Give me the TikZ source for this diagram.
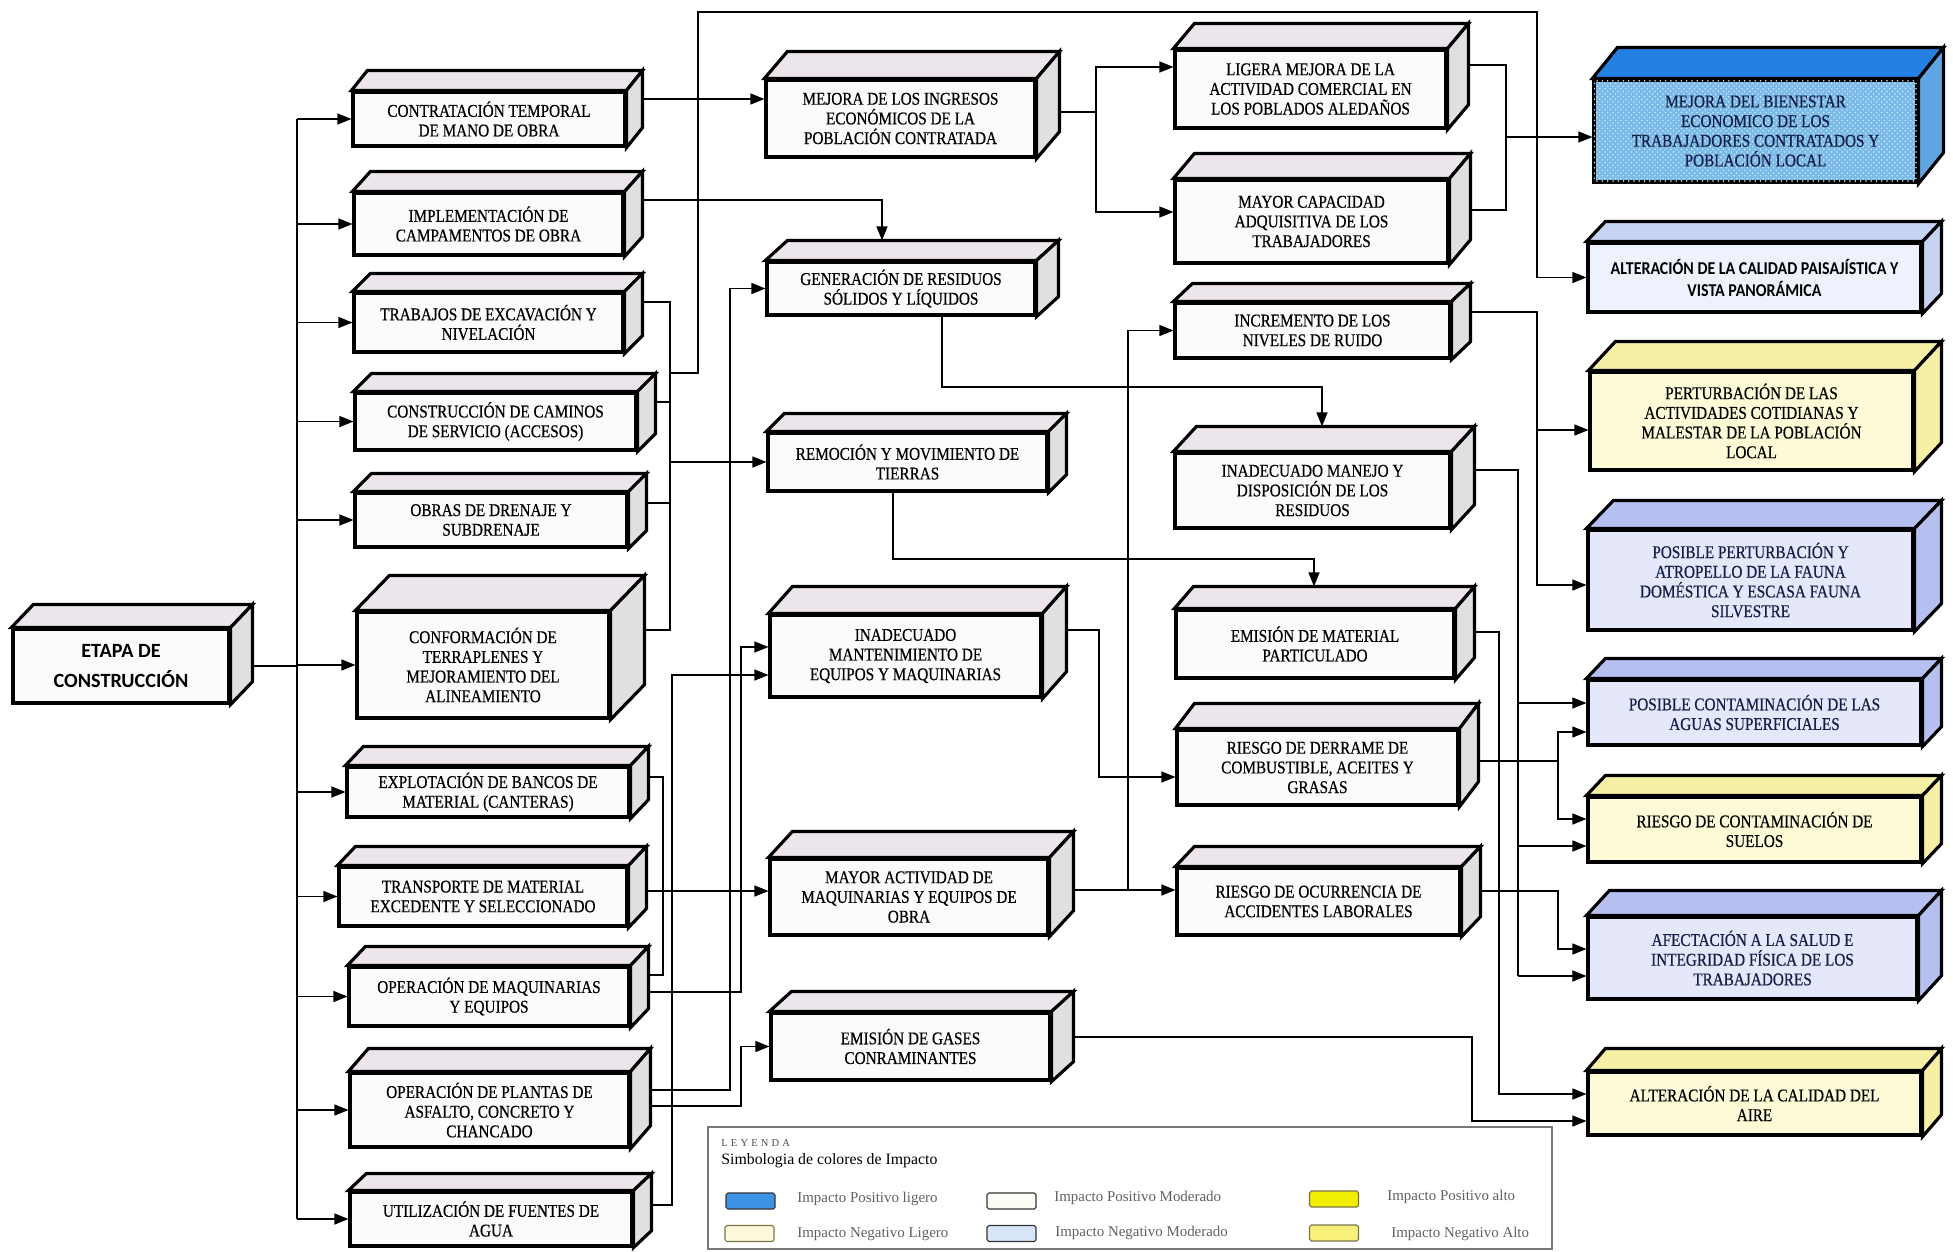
\documentclass[tikz,border=0pt]{standalone}
\usepackage{fontspec}
\setmainfont{Liberation Serif}
\newfontfamily\cajafont[FakeStretch=0.85, FakeBold=0.5]{Liberation Serif}
\newfontfamily\carlito{Carlito}
\newfontfamily\carlitoang[FakeStretch=0.88]{Carlito}
\usetikzlibrary{arrows.meta, calc, backgrounds, patterns}

\definecolor{cfrente}{RGB}{252,250,252}
\definecolor{ctapa}{RGB}{236,229,236}
\definecolor{clado}{RGB}{224,224,226}
\definecolor{bienfrente}{RGB}{122,186,232}
\definecolor{bientapa}{RGB}{36,128,226}
\definecolor{bienlado}{RGB}{96,166,228}
\definecolor{paisfrente}{RGB}{238,242,252}
\definecolor{paislado}{RGB}{198,212,244}
\definecolor{lifrente}{RGB}{228,232,250}
\definecolor{lilado}{RGB}{182,192,240}
\definecolor{amfrente}{RGB}{253,251,214}
\definecolor{amlado}{RGB}{246,240,165}
\definecolor{azuloscuro}{RGB}{20,30,70}
\definecolor{leyborde}{RGB}{120,120,120}

\tikzset{
  caja/.style n args={5}{draw, line width=1.8pt, fill=#1, align=center, inner sep=0pt,
    font=\cajafont\fontsize{10.2}{11.2}\selectfont,
    append after command={\pgfextra{%
      \draw[line width=1.8pt, fill=#2] (\tikzlastnode.north west) -- ++(#4,-#5)
        -- ([shift={(#4,-#5)}]\tikzlastnode.north east) -- (\tikzlastnode.north east) -- cycle;
      \draw[line width=1.8pt, fill=#3] (\tikzlastnode.north east) -- ++(#4,-#5)
        -- ([shift={(#4,-#5)}]\tikzlastnode.south east) -- (\tikzlastnode.south east) -- cycle;
    }}},
  neutra/.style 2 args={caja={cfrente}{ctapa}{clado}{#1}{#2}},
  amarilla/.style 2 args={caja={amfrente}{amlado}{amlado}{#1}{#2}},
  lila/.style 2 args={caja={lifrente}{lilado}{lilado}{#1}{#2}},
  linea/.style={line width=0.7pt},
  flecha/.style={linea, -{Triangle[length=0.28cm, width=0.22cm]}},
  muestra/.style={draw=#1, line width=0.6pt, rounded corners=1pt, minimum width=0.98cm, minimum height=0.32cm},
  leytexto/.style={anchor=west, inner sep=0pt, text=gray!75!black, font=\fontsize{8.5}{10}\selectfont},
}

\begin{document}
\begin{tikzpicture}[x=0.02cm, y=-0.02cm]
  \useasboundingbox (0,0) rectangle (1953,1251);

  % Stage
  \node[neutra={22}{23}, minimum width=4.32cm, minimum height=1.48cm,
        font=\carlito\bfseries\fontsize{11.5}{17}\selectfont] (etapa) at (121,666) {ETAPA DE\\CONSTRUCCIÓN};

  % Activities
  \node[neutra={16}{20}, minimum width=5.44cm, minimum height=1.08cm] (contr) at (489,119) {CONTRATACIÓN TEMPORAL\\DE MANO DE OBRA};
  \node[neutra={18}{20}, minimum width=5.38cm, minimum height=1.24cm] (impl) at (488.5,224) {IMPLEMENTACIÓN DE\\CAMPAMENTOS DE OBRA};
  \node[neutra={18}{18}, minimum width=5.38cm, minimum height=1.18cm] (trab) at (488.5,322.5) {TRABAJOS DE EXCAVACIÓN Y\\NIVELACIÓN};
  \node[neutra={18}{18}, minimum width=5.62cm, minimum height=1.14cm] (camin) at (495.5,421.5) {CONSTRUCCIÓN DE CAMINOS\\DE SERVICIO (ACCESOS)};
  \node[neutra={18}{18}, minimum width=5.44cm, minimum height=1.08cm] (obras) at (491,520) {OBRAS DE DRENAJE Y\\SUBDRENAJE};
  \node[neutra={34}{35}, minimum width=5.04cm, minimum height=2.12cm] (conf) at (483,665) {CONFORMACIÓN DE\\TERRAPLENES Y\\MEJORAMIENTO DEL\\ALINEAMIENTO};
  \node[neutra={18}{19}, minimum width=5.64cm, minimum height=1.0cm] (explo) at (488,792) {EXPLOTACIÓN DE BANCOS DE\\MATERIAL (CANTERAS)};
  \node[neutra={18}{19}, minimum width=5.76cm, minimum height=1.18cm] (transp) at (483,896.5) {TRANSPORTE DE MATERIAL\\EXCEDENTE Y SELECCIONADO};
  \node[neutra={18}{19}, minimum width=5.6cm, minimum height=1.18cm] (opmaq) at (489,996.5) {OPERACIÓN DE MAQUINARIAS\\Y EQUIPOS};
  \node[neutra={20}{23}, minimum width=5.58cm, minimum height=1.48cm] (plantas) at (489.5,1110) {OPERACIÓN DE PLANTAS DE\\ASFALTO, CONCRETO Y\\CHANCADO};
  \node[neutra={18}{17}, minimum width=5.64cm, minimum height=1.08cm] (agua) at (491,1219) {UTILIZACIÓN DE FUENTES DE\\AGUA};

  % Direct effects
  \node[neutra={23}{27}, minimum width=5.38cm, minimum height=1.54cm] (ingr) at (900.5,118.5) {MEJORA DE LOS INGRESOS\\ECONÓMICOS DE LA\\POBLACIÓN CONTRATADA};
  \node[neutra={22}{20}, minimum width=5.36cm, minimum height=1.06cm] (resid) at (901,288.5) {GENERACIÓN DE RESIDUOS\\SÓLIDOS Y LÍQUIDOS};
  \node[neutra={18}{18}, minimum width=5.58cm, minimum height=1.16cm] (remoc) at (907.5,462) {REMOCIÓN Y MOVIMIENTO DE\\TIERRAS};
  \node[neutra={24}{27}, minimum width=5.42cm, minimum height=1.64cm] (mant) at (905.5,656) {INADECUADO\\MANTENIMIENTO DE\\EQUIPOS Y MAQUINARIAS};
  \node[neutra={24}{26}, minimum width=5.56cm, minimum height=1.52cm] (activ) at (909,897) {MAYOR ACTIVIDAD DE\\MAQUINARIAS Y EQUIPOS DE\\OBRA};
  \node[neutra={22}{20}, minimum width=5.58cm, minimum height=1.34cm] (gases) at (910.5,1046.5) {EMISIÓN DE GASES\\CONRAMINANTES};

  % Secondary effects
  \node[neutra={21}{25}, minimum width=5.42cm, minimum height=1.56cm] (liger) at (1310.5,89) {LIGERA MEJORA DE LA\\ACTIVIDAD COMERCIAL EN\\LOS POBLADOS ALEDAÑOS};
  \node[neutra={21}{25}, minimum width=5.46cm, minimum height=1.66cm] (capac) at (1311.5,221.5) {MAYOR CAPACIDAD\\ADQUISITIVA DE LOS\\TRABAJADORES};
  \node[neutra={19}{18}, minimum width=5.5cm, minimum height=1.1cm] (ruido) at (1312.5,330.5) {INCREMENTO DE LOS\\NIVELES DE RUIDO};
  \node[neutra={23}{25}, minimum width=5.5cm, minimum height=1.5cm] (manejo) at (1312.5,490.5) {INADECUADO MANEJO Y\\DISPOSICIÓN DE LOS\\RESIDUOS};
  \node[neutra={19}{22}, minimum width=5.56cm, minimum height=1.36cm] (partic) at (1315,644) {EMISIÓN DE MATERIAL\\PARTICULADO};
  \node[neutra={19}{25}, minimum width=5.62cm, minimum height=1.5cm] (derr) at (1317.5,767.5) {RIESGO DE DERRAME DE\\COMBUSTIBLE, ACEITES Y\\GRASAS};
  \node[neutra={19}{20}, minimum width=5.66cm, minimum height=1.34cm] (accid) at (1318.5,901.5) {RIESGO DE OCURRENCIA DE\\ACCIDENTES LABORALES};

  % Impacts
  \node[caja={bienfrente}{bientapa}{bienlado}{25}{31}, postaction={pattern=crosshatch dots, pattern color=white!65!bienfrente},
        text=azuloscuro, minimum width=6.46cm, minimum height=2.04cm] (bien) at (1755.5,131) {MEJORA DEL BIENESTAR\\ECONOMICO DE LOS\\TRABAJADORES CONTRATADOS Y\\POBLACIÓN LOCAL};
  \node[caja={paisfrente}{paislado}{paislado}{19}{20}, minimum width=6.66cm, minimum height=1.38cm,
        font=\carlitoang\bfseries\fontsize{10.3}{12.5}\selectfont] (paisaj) at (1754.5,277.5) {ALTERACIÓN DE LA CALIDAD PAISAJÍSTICA Y\\VISTA PANORÁMICA};
  \node[amarilla={27}{29}, minimum width=6.46cm, minimum height=1.96cm] (cotid) at (1751.5,421) {PERTURBACIÓN DE LAS\\ACTIVIDADES COTIDIANAS Y\\MALESTAR DE LA POBLACIÓN\\LOCAL};
  \node[lila={27}{28}, text=azuloscuro, minimum width=6.5cm, minimum height=2.0cm] (fauna) at (1750.5,580) {POSIBLE PERTURBACIÓN Y\\ATROPELLO DE LA FAUNA\\DOMÉSTICA Y ESCASA FAUNA\\SILVESTRE};
  \node[lila={19}{20}, text=azuloscuro, minimum width=6.66cm, minimum height=1.3cm] (aguas) at (1754.5,712.5) {POSIBLE CONTAMINACIÓN DE LAS\\AGUAS SUPERFICIALES};
  \node[amarilla={19}{20}, minimum width=6.66cm, minimum height=1.3cm] (suelos) at (1754.5,829.5) {RIESGO DE CONTAMINACIÓN DE\\SUELOS};
  \node[lila={23}{25}, text=azuloscuro, minimum width=6.58cm, minimum height=1.64cm] (salud) at (1752.5,958) {AFECTACIÓN A LA SALUD E\\INTEGRIDAD FÍSICA DE LOS\\TRABAJADORES};
  \node[amarilla={19}{22}, minimum width=6.66cm, minimum height=1.26cm] (aire) at (1754.5,1103.5) {ALTERACIÓN DE LA CALIDAD DEL\\AIRE};

  % Connectors
  \begin{scope}[on background layer]
    \coordinate (tronco) at (297,0);
    \draw[linea] (etapa.east) -- (etapa.east -| tronco);
    \draw[linea] (contr.west -| tronco) -- (agua.west -| tronco);
    \foreach \n in {contr,impl,trab,camin,obras,conf,explo,transp,opmaq,plantas,agua}
      \draw[flecha] (\n.west -| tronco) -- (\n.west);

    \draw[flecha] (contr.east |- 0,99) -- (ingr.west |- 0,99);
    \draw[flecha] (impl.east |- 0,200) -| ($(resid.north -| 882,0)+(0,-20)$);

    % earthworks bus
    \coordinate (bus) at (670,0);
    \draw[linea] (trab.east |- 0,302) -| (bus |- 0,630) -- (conf.east |- 0,630);
    \draw[linea] (camin.east |- 0,402) -- (bus |- 0,402);
    \draw[linea] (obras.east |- 0,503) -- (bus |- 0,503);
    \draw[flecha] (bus |- remoc.west) -- (remoc.west);
    \draw[flecha] (bus |- 0,373) -| (698,12) -- (1537,12) |- (paisaj.west);

    \draw[linea] (explo.east |- 0,777) -| (663,891);
    \draw[linea] (opmaq.east |- 0,975) -| (663,891);
    \draw[flecha] (transp.east |- 0,891) -- (activ.west |- 0,891);
    \draw[flecha] (opmaq.east |- 0,992) -| (741,800) |- (mant.west |- 0,647);
    \draw[flecha] (agua.east |- 0,1205) -| (672,800) |- (mant.west |- 0,675);
    \draw[flecha] (plantas.east |- 0,1090) -| (730,700) |- (resid.west);
    \draw[flecha] (plantas.east |- 0,1106) -| (741,1080) |- (gases.west);

    \draw[linea] (ingr.east |- 0,112) -- (1096,112);
    \draw[flecha] (1096,112) |- (liger.west |- 0,67);
    \draw[flecha] (1096,112) |- (capac.west |- 0,212);
    \draw[flecha] (resid.south -| 942,0) |- (1322,387) -- ($(manejo.north -| 1322,0)+(0,-25)$);
    \draw[flecha] (remoc.south -| 893,0) |- (1314,559) -- ($(partic.north -| 1314,0)+(0,-22)$);
    \draw[flecha] (mant.east |- 0,630) -| (1099,700) |- (derr.west |- 0,777);
    \draw[flecha] (activ.east |- 0,890) -- (accid.west |- 0,890);
    \draw[flecha] (1128,890) |- (ruido.west);

    \draw[linea] (liger.east |- 0,65) -| (1506,137);
    \draw[linea] (capac.east |- 0,210) -| (1506,137);
    \draw[flecha] (1506,137) -- (bien.west |- 0,137);
    \draw[flecha] (ruido.east |- 0,312) -| (1537,400) |- (cotid.west |- 0,430);
    \draw[flecha] (1537,400) |- (fauna.west |- 0,585);
    \draw[linea] (manejo.east |- 0,470) -| (1518,976);
    \draw[flecha] (1518,703) -- (aguas.west |- 0,703);
    \draw[flecha] (1518,846) -- (suelos.west |- 0,846);
    \draw[flecha] (1518,976) -- (salud.west |- 0,976);
    \draw[flecha] (partic.east |- 0,632) -| (1499,900) |- (aire.west |- 0,1094);
    \draw[linea] (derr.east |- 0,761) -- (1558,761);
    \draw[flecha] (1558,761) |- (aguas.west |- 0,732);
    \draw[flecha] (1558,761) |- (suelos.west |- 0,819);
    \draw[flecha] (accid.east |- 0,891) -| (1558,920) |- (salud.west |- 0,949);
    \draw[flecha] (gases.east |- 0,1037) -| (1472,1100) |- (aire.west |- 0,1121);
  \end{scope}

  % Legend
  \node[draw=leyborde, line width=0.7pt, minimum width=16.88cm, minimum height=2.44cm, inner sep=0pt] (leyenda) at (1130,1188) {};
  \node[anchor=west, inner sep=0pt, text=gray!60!black, font=\fontsize{6}{7}\selectfont\addfontfeature{LetterSpace=30}] (leytit) at (721,1143) {LEYENDA};
  \node[anchor=west, inner sep=0pt, font=\fontsize{9}{10}\selectfont] (simb) at (721,1161) {Simbologia de colores de Impacto};
  \node[muestra=gray!40!black, fill={rgb,255:red,61;green,148;blue,230}] (sw1) at (750.5,1201) {};
  \node[muestra=gray!40!black, fill={rgb,255:red,253;green,253;blue,246}] (sw2) at (1011.5,1201) {};
  \node[muestra=black!60!yellow, fill={rgb,255:red,242;green,238;blue,0}] (sw3) at (1334,1199) {};
  \node[muestra=black!60!yellow, fill={rgb,255:red,252;green,249;blue,220}] (sw4) at (749.5,1233.5) {};
  \node[muestra=gray!40!black, fill={rgb,255:red,214;green,230;blue,247}] (sw5) at (1011.5,1233.5) {};
  \node[muestra=black!60!yellow, fill={rgb,255:red,247;green,240;blue,122}] (sw6) at (1334,1233) {};
  \node[leytexto] (lb1) at (797,1199) {Impacto Positivo ligero};
  \node[leytexto] (lb2) at (1054,1198) {Impacto Positivo Moderado};
  \node[leytexto] (lb3) at (1387,1197) {Impacto Positivo alto};
  \node[leytexto] (lb4) at (797,1234) {Impacto Negativo Ligero};
  \node[leytexto] (lb5) at (1055,1233) {Impacto Negativo Moderado};
  \node[leytexto] (lb6) at (1391,1234) {Impacto Negativo Alto};
\end{tikzpicture}
\end{document}
